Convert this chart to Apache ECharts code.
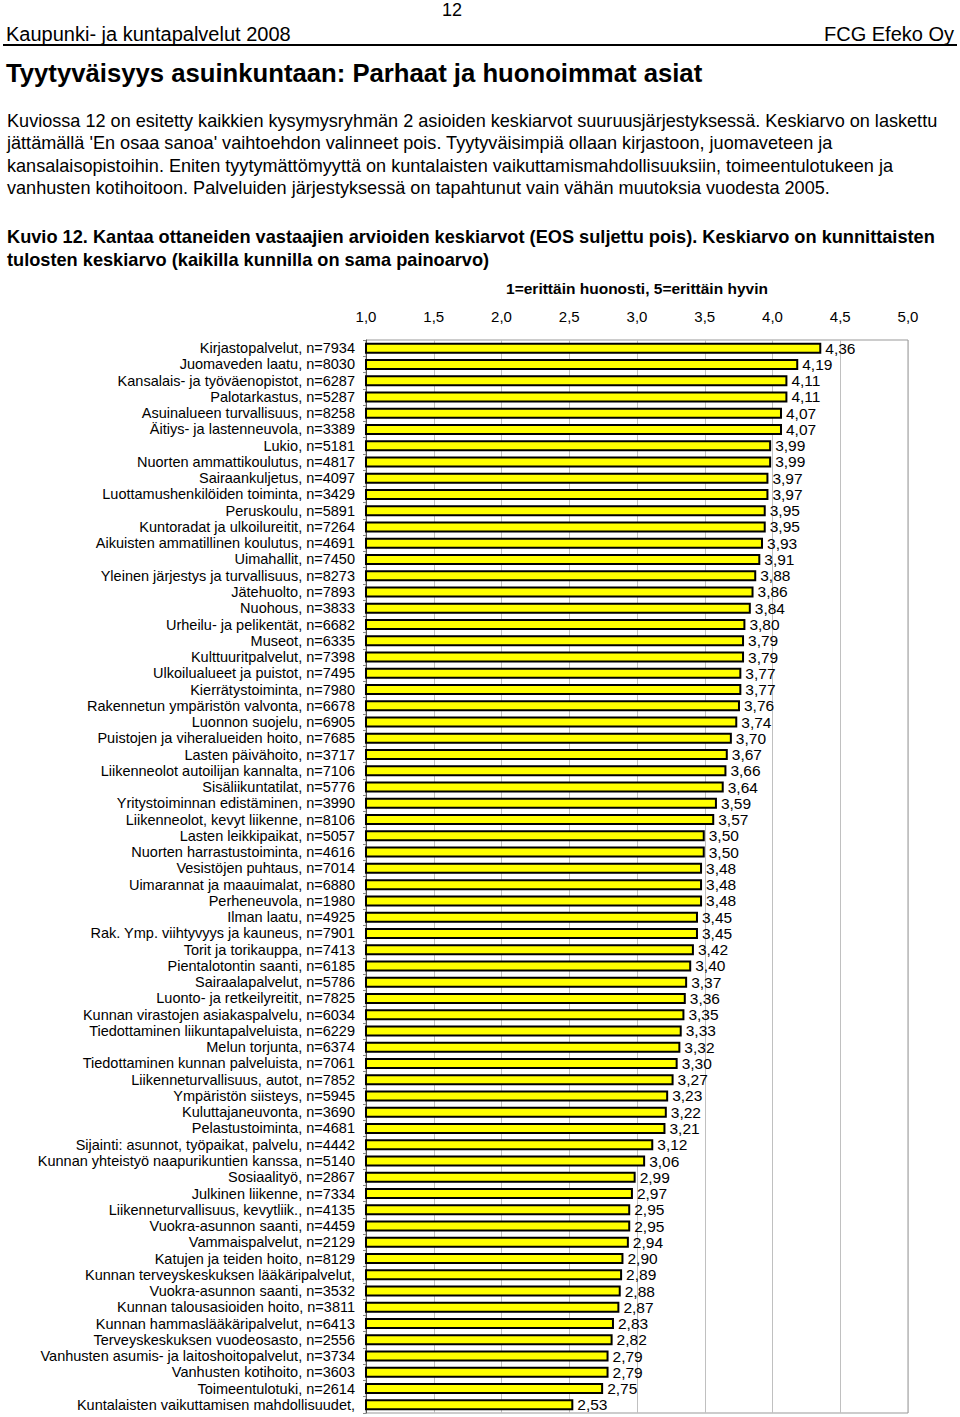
<!DOCTYPE html>
<html>
<head>
<meta charset="utf-8">
<script src="https://cdn.jsdelivr.net/npm/echarts@6/dist/echarts.min.js"></script>
<style>
html,body{margin:0;padding:0;background:#fff;}
#chart{width:960px;height:1417px;}
</style>
</head>
<body>
<div id="chart"></div>
<script>
const categories = [
"Kirjastopalvelut, n=7934",
"Juomaveden laatu, n=8030",
"Kansalais- ja työväenopistot, n=6287",
"Palotarkastus, n=5287",
"Asuinalueen turvallisuus, n=8258",
"Äitiys- ja lastenneuvola, n=3389",
"Lukio, n=5181",
"Nuorten ammattikoulutus, n=4817",
"Sairaankuljetus, n=4097",
"Luottamushenkilöiden toiminta, n=3429",
"Peruskoulu, n=5891",
"Kuntoradat ja ulkoilureitit, n=7264",
"Aikuisten ammatillinen koulutus, n=4691",
"Uimahallit, n=7450",
"Yleinen järjestys ja turvallisuus, n=8273",
"Jätehuolto, n=7893",
"Nuohous, n=3833",
"Urheilu- ja pelikentät, n=6682",
"Museot, n=6335",
"Kulttuuritpalvelut, n=7398",
"Ulkoilualueet ja puistot, n=7495",
"Kierrätystoiminta, n=7980",
"Rakennetun ympäristön valvonta, n=6678",
"Luonnon suojelu, n=6905",
"Puistojen ja viheralueiden hoito, n=7685",
"Lasten päivähoito, n=3717",
"Liikenneolot autoilijan kannalta, n=7106",
"Sisäliikuntatilat, n=5776",
"Yritystoiminnan edistäminen, n=3990",
"Liikenneolot, kevyt liikenne, n=8106",
"Lasten leikkipaikat, n=5057",
"Nuorten harrastustoiminta, n=4616",
"Vesistöjen puhtaus, n=7014",
"Uimarannat ja maauimalat, n=6880",
"Perheneuvola, n=1980",
"Ilman laatu, n=4925",
"Rak. Ymp. viihtyvyys ja kauneus, n=7901",
"Torit ja torikauppa, n=7413",
"Pientalotontin saanti, n=6185",
"Sairaalapalvelut, n=5786",
"Luonto- ja retkeilyreitit, n=7825",
"Kunnan virastojen asiakaspalvelu, n=6034",
"Tiedottaminen liikuntapalveluista, n=6229",
"Melun torjunta, n=6374",
"Tiedottaminen kunnan palveluista, n=7061",
"Liikenneturvallisuus, autot, n=7852",
"Ympäristön siisteys, n=5945",
"Kuluttajaneuvonta, n=3690",
"Pelastustoiminta, n=4681",
"Sijainti: asunnot, työpaikat, palvelu, n=4442",
"Kunnan yhteistyö naapurikuntien kanssa, n=5140",
"Sosiaalityö, n=2867",
"Julkinen liikenne, n=7334",
"Liikenneturvallisuus, kevytliik., n=4135",
"Vuokra-asunnon saanti, n=4459",
"Vammaispalvelut, n=2129",
"Katujen ja teiden hoito, n=8129",
"Kunnan terveyskeskuksen lääkäripalvelut,",
"Vuokra-asunnon saanti, n=3532",
"Kunnan talousasioiden hoito, n=3811",
"Kunnan hammaslääkäripalvelut, n=6413",
"Terveyskeskuksen vuodeosasto, n=2556",
"Vanhusten asumis- ja laitoshoitopalvelut, n=3734",
"Vanhusten kotihoito, n=3603",
"Toimeentulotuki, n=2614",
"Kuntalaisten vaikuttamisen mahdollisuudet,"
];
const values = [
4.36,4.19,4.11,4.11,4.07,4.07,3.99,3.99,3.97,3.97,
3.95,3.95,3.93,3.91,3.88,3.86,3.84,3.80,3.79,3.79,
3.77,3.77,3.76,3.74,3.70,3.67,3.66,3.64,3.59,3.57,
3.50,3.50,3.48,3.48,3.48,3.45,3.45,3.42,3.40,3.37,
3.36,3.35,3.33,3.32,3.30,3.27,3.23,3.22,3.21,3.12,
3.06,2.99,2.97,2.95,2.95,2.94,2.90,2.89,2.88,2.87,
2.83,2.82,2.79,2.79,2.75,2.53
];
const axisTitle = "1=erittäin huonosti, 5=erittäin hyvin";
const pageNumber = "12";
const headerLeft = "Kaupunki- ja kuntapalvelut 2008";
const headerRight = "FCG Efeko Oy";
const pageTitle = "Tyytyväisyys asuinkuntaan: Parhaat ja huonoimmat asiat";
const paragraphLines = [
"Kuviossa 12 on esitetty kaikkien kysymysryhmän 2 asioiden keskiarvot suuruusjärjestyksessä. Keskiarvo on laskettu",
"jättämällä 'En osaa sanoa' vaihtoehdon valinneet pois. Tyytyväisimpiä ollaan kirjastoon, juomaveteen ja",
"kansalaisopistoihin. Eniten tyytymättömyyttä on kuntalaisten vaikuttamismahdollisuuksiin, toimeentulotukeen ja",
"vanhusten kotihoitoon. Palveluiden järjestyksessä on tapahtunut vain vähän muutoksia vuodesta 2005."
];
const captionLines = [
"Kuvio 12. Kantaa ottaneiden vastaajien arvioiden keskiarvot (EOS suljettu pois). Keskiarvo on kunnittaisten",
"tulosten keskiarvo (kaikilla kunnilla on sama painoarvo)"
];

const FF = "'Liberation Sans', Arial, Helvetica, sans-serif";
const fmt = (v, d) => Number(v).toFixed(d).replace('.', ',');

const graphics = [];
function txt(t, x, y, size, weight, align) {
  graphics.push({type:'text', x:x, y:y, silent:true,
    style:{text:t, fontFamily:FF, fontSize:size, fontWeight:weight||'normal', fill:'#000',
      textAlign:align||'left', textVerticalAlign:'middle'}});
}
txt(pageNumber, 452, 10, 18, 'normal', 'center');
txt(headerLeft, 6, 34, 20, 'normal', 'left');
txt(headerRight, 954, 34, 20, 'normal', 'right');
graphics.push({type:'line', silent:true, shape:{x1:3,y1:45,x2:957,y2:45}, style:{stroke:'#000', lineWidth:2}});
txt(pageTitle, 6, 73, 25.7, 'bold', 'left');
const pY = [121, 143, 166, 188];
paragraphLines.forEach((l,i)=>txt(l, 7, pY[i], 18.1, 'normal', 'left'));
const cY = [237, 260];
captionLines.forEach((l,i)=>txt(l, 7, cY[i], 18.2, 'bold', 'left'));

const chart = echarts.init(document.getElementById('chart'), null, {renderer:'svg'});
chart.setOption({
  backgroundColor:'#fff',
  animation:false,
  textStyle:{fontFamily:FF},
  graphic: graphics,
  grid:{left:366, right:52, top:340, bottom:4, show:true, borderColor:'#999', borderWidth:1, containLabel:false},
  xAxis:{
    type:'value', position:'top', min:1, max:5, interval:0.5,
    name: axisTitle, nameLocation:'middle', nameGap:44,
    nameTextStyle:{fontSize:15.5, fontWeight:'bold', color:'#000', fontFamily:FF},
    axisLabel:{fontSize:15, color:'#000', margin:16, fontFamily:FF, formatter:(v)=>fmt(v,1)},
    axisLine:{show:false}, axisTick:{show:false},
    splitLine:{show:true, lineStyle:{color:'#c0c0c0', width:1}}
  },
  yAxis:{
    type:'category', inverse:true, data:categories,
    axisLine:{show:true, lineStyle:{color:'#555', width:1}},
    axisTick:{show:true, length:3, interval:0, lineStyle:{color:'#888'}},
    axisLabel:{fontSize:14.5, color:'#000', margin:11, interval:0, fontFamily:FF}
  },
  series:[{
    type:'bar', data:values, barWidth:11,
    itemStyle:{color:'#ffff00', borderColor:'#000', borderWidth:2},
    label:{show:true, position:'right', distance:4, fontSize:15.5, color:'#000', fontFamily:FF,
      formatter:(p)=>fmt(p.value,2)}
  }]
});
</script>
</body>
</html>
